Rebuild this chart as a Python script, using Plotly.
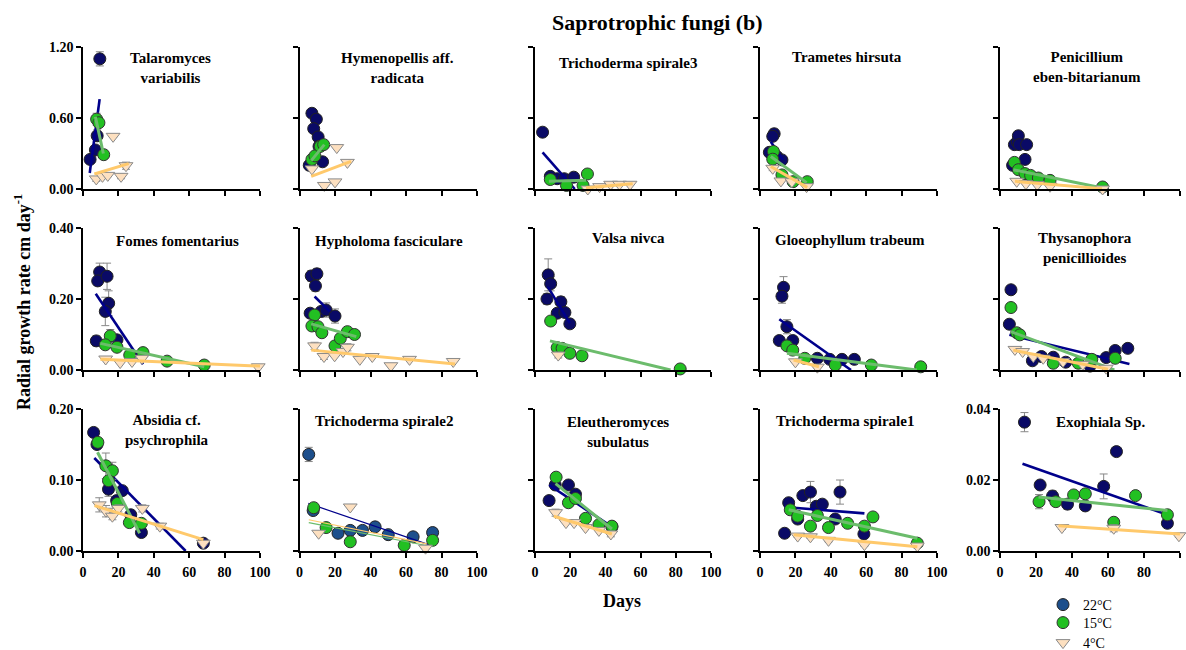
import plotly.graph_objects as go

W, H = 1186, 650

panel_titles = ["Talaromyces<br>variabilis", "Hymenopellis aff.<br>radicata", "Trichoderma spirale3",
                "Trametes hirsuta", "Penicillium<br>eben-bitarianum",
                "Fomes fomentarius", "Hypholoma fasciculare", "Valsa nivca", "Gloeophyllum trabeum",
                "Thysanophora<br>penicillioides",
                "Absidia cf.<br>psychrophila", "Trichoderma spirale2", "Eleutheromyces<br>subulatus",
                "Trichoderma spirale1", "Exophiala Sp."]

# ---- 22 °C ----
days22 = [
    [4, 7, 8, 9.5],
    [7, 9.5, 8, 10.5, 11, 13, 5.5],
    [4.3, 8.7, 12.6, 16.6, 22],
    [8, 7.2, 5.3, 9.5, 12.4],
    [7, 8, 9.6, 10.2, 10.7, 13.9, 14.8],
    [9.4, 8.3, 13.6, 14.5, 12.6, 7.5, 19.2],
    [6.6, 9.8, 9, 6, 12.2, 15, 20],
    [7.5, 8.9, 6.8, 14.7, 12.6, 17, 19.8],
    [13.3, 12.4, 15.2, 10.9, 18.5, 32.4, 39.4, 46.3, 53.3],
    [6.1, 5.2, 18, 23, 29.6, 36.5, 50, 59, 64, 71],
    [6, 7.9, 14.4, 19, 22.2, 27, 33, 68],
    [5.2, 7.7, 21.7, 28.6, 35.5, 42.6, 50, 64, 75],
    [8, 11.5, 19, 23, 43.7],
    [13.9, 16.2, 21.3, 24.2, 28.5, 31.8, 35.2, 42.5, 45.2, 58.7],
    [13.6, 22.3, 29.2, 37.5, 47.4, 57.6, 64.7, 93],
]
rate22 = [
    [0.25, 0.33, 0.45, 1.10],
    [0.64, 0.59, 0.51, 0.44, 0.36, 0.23, 0.20],
    [0.48, 0.107, 0.087, 0.087, 0.10],
    [0.467, 0.445, 0.31, 0.275, 0.246],
    [0.20, 0.375, 0.40, 0.45, 0.375, 0.25, 0.375],
    [0.276, 0.251, 0.264, 0.188, 0.165, 0.082, 0.085],
    [0.265, 0.271, 0.237, 0.16, 0.165, 0.169, 0.152],
    [0.268, 0.243, 0.20, 0.192, 0.16, 0.162, 0.13],
    [0.233, 0.208, 0.122, 0.083, 0.083, 0.033, 0.030, 0.030, 0.030],
    [0.226, 0.129, 0.026, 0.038, 0.036, 0.022, 0.011, 0.035, 0.055, 0.061],
    [0.167, 0.15, 0.087, 0.071, 0.085, 0.051, 0.026, 0.011],
    [0.136, 0.057, 0.025, 0.029, 0.029, 0.034, 0.023, 0.020, 0.026],
    [0.071, 0.093, 0.093, 0.080, 0.034],
    [0.025, 0.068, 0.045, 0.078, 0.083, 0.063, 0.066, 0.045, 0.083, 0.024],
    [0.0363, 0.0186, 0.0155, 0.0132, 0.0127, 0.0182, 0.028, 0.0078],
]
err22 = [
    [0.02, 0.03, 0.05, 0.06],
    [0, 0, 0, 0, 0, 0, 0],
    [0, 0, 0, 0, 0],
    [0.04, 0.03, 0.02, 0.02, 0.02],
    [0.03, 0.03, 0.02, 0.03, 0.03, 0, 0.02],
    [0.025, 0, 0.037, 0.035, 0.04, 0.014, 0],
    [0.015, 0.015, 0.015, 0, 0, 0.02, 0.02],
    [0.045, 0.02, 0.015, 0.015, 0.01, 0.01, 0.005],
    [0.03, 0.02, 0.02, 0, 0, 0, 0, 0, 0],
    [0, 0, 0, 0, 0, 0, 0, 0, 0, 0],
    [0, 0, 0.01, 0, 0, 0, 0, 0],
    [0.01, 0, 0, 0, 0, 0, 0, 0, 0],
    [0, 0, 0.005, 0.005, 0],
    [0, 0.005, 0, 0, 0.015, 0, 0.005, 0, 0.017, 0.004],
    [0.0027, 0, 0.0015, 0.0015, 0, 0.0035, 0, 0.001],
]
# ---- 15 °C ----
days15 = [
    [7.7, 9, 11.7],
    [7, 8.7, 11.7, 13.6],
    [8.7, 17.9, 27.3, 29.8],
    [7.6, 7.2, 12.4, 18.7, 26.7],
    [8, 10.2, 13.9, 17, 21.3, 27.8, 57],
    [15.4, 12.6, 19.2, 26.4, 33.9, 47.5, 68.5],
    [8.5, 7, 10.4, 12.6, 20, 23, 27, 31],
    [8.9, 12.6, 15.4, 19.8, 26.7, 82.5],
    [15.2, 18.5, 25.3, 42.5, 62.9, 90.8],
    [6.1, 9.3, 11, 29.6, 43.5, 51, 64],
    [8.4, 12.9, 16.6, 14.4, 19.4, 26.2, 33],
    [8, 15, 28.6, 59, 75],
    [12, 19, 23, 28.7, 36.3, 43.7],
    [17.1, 21.3, 28.5, 32.4, 38.7, 49.5, 59, 63.8, 88.9],
    [21.7, 31, 40.9, 47.4, 63.2, 75.3, 93],
]
rate15 = [
    [0.59, 0.56, 0.29],
    [0.25, 0.28, 0.36, 0.375],
    [0.08, 0.03, 0.03, 0.127],
    [0.317, 0.252, 0.119, 0.062, 0.062],
    [0.225, 0.163, 0.13, 0.115, 0.093, 0.073, 0.017],
    [0.096, 0.071, 0.064, 0.042, 0.049, 0.025, 0.014],
    [0.155, 0.124, 0.122, 0.105, 0.068, 0.089, 0.108, 0.10],
    [0.138, 0.063, 0.061, 0.047, 0.04, 0.003],
    [0.068, 0.056, 0.033, 0.014, 0.014, 0.009],
    [0.176, 0.105, 0.099, 0.019, 0.019, 0.03, 0.033],
    [0.153, 0.12, 0.113, 0.099, 0.067, 0.04, 0.039],
    [0.061, 0.033, 0.013, 0.008, 0.015],
    [0.104, 0.068, 0.074, 0.046, 0.037, 0.035],
    [0.058, 0.049, 0.035, 0.050, 0.033, 0.039, 0.035, 0.048, 0.011],
    [0.0139, 0.0139, 0.0158, 0.0161, 0.0081, 0.0156, 0.0102],
]
err15 = [
    [0.05, 0.02, 0.02],
    [0, 0, 0, 0],
    [0, 0, 0, 0],
    [0.02, 0, 0, 0, 0],
    [0, 0, 0, 0, 0, 0, 0],
    [0.018, 0, 0, 0, 0, 0, 0],
    [0, 0, 0, 0, 0, 0, 0, 0.01],
    [0.01, 0, 0, 0, 0, 0],
    [0, 0, 0, 0, 0, 0],
    [0, 0, 0, 0, 0, 0, 0],
    [0, 0.018, 0.012, 0, 0.005, 0, 0.005],
    [0, 0, 0, 0, 0],
    [0.005, 0, 0, 0, 0, 0.004],
    [0, 0, 0, 0, 0, 0, 0, 0, 0],
    [0.002, 0.001, 0, 0, 0, 0, 0.001],
]
# ---- 4 °C ----
days4 = [
    [7.5, 11, 14, 17, 21.5, 24.3],
    [7, 14, 20, 21, 27],
    [30, 36.7, 43, 48, 54],
    [7.2, 11.8, 18, 26.3],
    [9.3, 14.4, 20.7, 27.8, 57],
    [12.8, 21, 27.7, 33.3, 99],
    [8.5, 13.8, 19.8, 24.5, 27, 34, 41, 51.5, 62, 86.6],
    [13.2],
    [20, 32.4],
    [8.3, 12.6, 18.5, 24, 35, 46, 59],
    [9.2, 13, 16.6, 20, 33.5, 43.4, 68],
    [10.8, 28.6, 71],
    [11.7, 17.6, 22.2, 28.7, 36.3, 43.1],
    [21.3, 28.5, 38.7, 59, 88.9],
    [34.4, 63.2, 99.4],
]
rate4 = [
    [0.085, 0.107, 0.115, 0.445, 0.107, 0.197],
    [0.17, 0.03, 0.06, 0.35, 0.225],
    [0.0, 0.02, 0.04, 0.04, 0.04],
    [0.175, 0.068, 0.062, 0.02],
    [0.065, 0.045, 0.037, 0.023, 0.0],
    [0.031, 0.021, 0.024, 0.033, 0.009],
    [0.068, 0.038, 0.04, 0.052, 0.064, 0.03, 0.038, 0.012, 0.03, 0.024],
    [0.042],
    [0.023, 0.008],
    [0.058, 0.052, 0.038, 0.033, 0.024, 0.016, 0.005],
    [0.065, 0.056, 0.049, 0.06, 0.06, 0.035, 0.011],
    [0.025, 0.062, 0.004],
    [0.054, 0.040, 0.040, 0.033, 0.029, 0.024],
    [0.021, 0.020, 0.015, 0.009, 0.007],
    [0.0066, 0.0064, 0.0043],
]
err4 = [
    [0.02, 0.01, 0.01, 0.01, 0.02, 0.03],
    [0, 0, 0, 0, 0],
    [0, 0, 0, 0, 0],
    [0.02, 0, 0, 0],
    [0, 0, 0, 0, 0],
    [0.004, 0, 0, 0, 0],
    [0.01, 0.008, 0, 0, 0.01, 0, 0, 0, 0, 0],
    [0.008],
    [0, 0],
    [0, 0, 0, 0, 0, 0, 0],
    [0.01, 0.008, 0.005, 0.005, 0.005, 0.004, 0],
    [0, 0, 0],
    [0.005, 0, 0, 0, 0, 0.004],
    [0.002, 0.002, 0.002, 0.002, 0],
    [0.0005, 0.001, 0.0005],
]
# ---- regression lines (end points) ----
fit22_x = [[3.8, 9.4], None, [4.3, 22.6], [6.1, 13], None,
           [7.2, 33.9], [8.5, 17], [7.2, 19.8], [10.9, 51.4], [5.2, 71.9],
           [6.4, 58], [5, 74], [8, 43.7], [13.7, 59], [12.5, 93]]
fit22_y = [[0.135, 0.76], None, [0.31, 0.0], [0.40, 0.246], None,
           [0.215, 0.016], [0.207, 0.165], [0.235, 0.132], [0.143, 0.0], [0.099, 0.017],
           [0.131, 0.0], [0.067, 0.008], [0.093, 0.034], [0.062, 0.053], [0.0246, 0.0102]]
fit15_x = [[7, 11.5], [6.6, 14], [7.9, 29], [6.1, 26.3], [7.4, 57],
           [9.8, 68.5], [6.6, 32], [8.5, 77], [15.2, 88.6], [6.1, 63.5],
           [8.2, 32], [5.2, 75], [11.7, 43.7], [16.2, 88.9], [21.4, 93]]
fit15_y = [[0.61, 0.30], [0.24, 0.375], [0.065, 0.073], [0.275, 0.054], [0.163, 0.008],
           [0.075, 0.009], [0.13, 0.094], [0.082, 0.0], [0.047, 0.0], [0.108, 0.0],
           [0.139, 0.025], [0.040, 0.006], [0.095, 0.031], [0.058, 0.018], [0.0152, 0.0114]]
fit4_x = [[6.4, 25.8], [6.6, 29], [29, 55.5], [6.1, 26.7], [8.3, 56.7],
          [9.8, 100], [6.6, 87.6], None, [19, 33.3], [7.4, 60],
          [6.5, 68], [5.2, 71.7], [10.7, 43.7], [19, 88.9], [32.5, 100]]
fit4_y = [[0.127, 0.214], [0.107, 0.234], [0.01, 0.045], [0.19, 0.014], [0.065, 0.003],
          [0.030, 0.011], [0.056, 0.017], None, [0.028, 0.009], [0.056, 0.002],
          [0.064, 0.016], [0.044, 0.010], [0.049, 0.024], [0.023, 0.006], [0.0071, 0.0048]]

row_ymax = [1.2, 0.4, 0.2]
row_yticks = [[0, 0.6, 1.2], [0, 0.2, 0.4], [0, 0.1, 0.2]]
exo_yticks = [0, 0.02, 0.04]
x_ticks = [0, 20, 40, 60, 80, 100]
legend_names = ["22\u00b0C", "15\u00b0C", "4\u00b0C"]

# ---- styles / layout geometry (pixels) ----
col_px = [(83, 260), (299.5, 477), (535, 711), (760, 937), (1000, 1180)]
row_px = [(47, 189), (228, 370), (409, 551)]
title_pos = [(170, 68), (397, 68), (628, 63), (847, 57), (1087, 67),
             (177, 241), (389, 241), (628, 238), (850, 240), (1085, 248),
             (167, 430), (384, 421), (618, 432), (845, 421), (1100, 422)]
legend_rows_px = [605, 623, 643]

NAVY = "#0a0a66"
STEEL = "#1d4f8c"
GREEN = "#22c022"
PEACH = "#fde0c0"
L_NAVY = "#00008b"
L_GREEN = "#6cbc6c"
L_ORANGE = "#ffc96b"
SERIF = "Liberation Serif"

def px(x):
    return x / W

def py(y):
    return 1 - y / H

fig = go.Figure()
layout = dict(width=W, height=H, margin=dict(l=0, r=0, t=0, b=0, autoexpand=False),
              plot_bgcolor="white", paper_bgcolor="white", showlegend=True)
annotations = []

for i in range(15):
    r, c = divmod(i, 5)
    k = "" if i == 0 else str(i + 1)
    xa, ya = "x" + k, "y" + k
    ymax = 0.04 if i == 14 else row_ymax[r]
    yticks = exo_yticks if i == 14 else row_yticks[r]
    axis_common = dict(showline=True, linecolor="black", linewidth=1.5, ticks="outside",
                       ticklen=5, tickwidth=1.5, tickcolor="black", showgrid=False,
                       zeroline=False, automargin=False,
                       tickfont=dict(family=SERIF, size=14, color="black", weight="bold"))
    layout["xaxis" + k] = dict(axis_common, domain=[px(col_px[c][0]), px(col_px[c][1])],
                               anchor=ya, range=[0, 100], tickvals=x_ticks,
                               showticklabels=(r == 2), ticklabelstandoff=2)
    layout["yaxis" + k] = dict(axis_common, domain=[py(row_px[r][1]), py(row_px[r][0])],
                               anchor=xa, range=[0, ymax], tickvals=yticks, tickformat=".2f",
                               showticklabels=(c == 0 or i == 14))
    errstyle = dict(type="data", thickness=1, width=4, color="#888888")
    c22 = STEEL if i == 11 else NAVY
    lw = 1.2 if i == 11 else 2.6
    lw2 = 1.2 if i == 11 else 3
    fig.add_trace(go.Scatter(x=days22[i], y=rate22[i], mode="markers", xaxis=xa, yaxis=ya,
                             error_y=dict(errstyle, array=err22[i]), showlegend=False, cliponaxis=False,
                             marker=dict(symbol="circle", size=12, color=c22, line=dict(color="#222", width=1))))
    if fit22_x[i]:
        fig.add_trace(go.Scatter(x=fit22_x[i], y=fit22_y[i], mode="lines", xaxis=xa, yaxis=ya,
                                 showlegend=False, line=dict(color=L_NAVY, width=lw)))
    fig.add_trace(go.Scatter(x=days15[i], y=rate15[i], mode="markers", xaxis=xa, yaxis=ya,
                             error_y=dict(errstyle, array=err15[i]), showlegend=False, cliponaxis=False,
                             marker=dict(symbol="circle", size=12, color=GREEN, line=dict(color="#333", width=1))))
    if fit15_x[i]:
        fig.add_trace(go.Scatter(x=fit15_x[i], y=fit15_y[i], mode="lines", xaxis=xa, yaxis=ya,
                                 showlegend=False, line=dict(color=L_GREEN, width=lw2)))
    fig.add_trace(go.Scatter(x=days4[i], y=rate4[i], mode="markers", xaxis=xa, yaxis=ya,
                             error_y=dict(errstyle, array=err4[i]), showlegend=False, cliponaxis=False,
                             marker=dict(symbol="triangle-down", size=12, color=PEACH,
                                         line=dict(color="#8a8a8a", width=1))))
    if fit4_x[i]:
        fig.add_trace(go.Scatter(x=fit4_x[i], y=fit4_y[i], mode="lines", xaxis=xa, yaxis=ya,
                                 showlegend=False, line=dict(color=L_ORANGE, width=lw2)))
    tx, ty = title_pos[i]
    annotations.append(dict(text=panel_titles[i], x=px(tx), y=py(ty), xref="paper", yref="paper",
                            xanchor="center", yanchor="middle", showarrow=False,
                            font=dict(family=SERIF, size=15, color="black", weight="bold")))

# legend entries: one small legend per entry so each can be placed exactly
leg_styles = [("circle", STEEL, "#222"), ("circle", GREEN, "#333"), ("triangle-down", PEACH, "#8a8a8a")]
for j, (name, (sym, col, lc)) in enumerate(zip(legend_names, leg_styles)):
    lg = "legend" if j == 0 else "legend" + str(j + 1)
    fig.add_trace(go.Scatter(x=[None], y=[None], mode="markers", name=name, xaxis="x15", yaxis="y15",
                             legend=lg, showlegend=True,
                             marker=dict(symbol=sym, size=12, color=col, line=dict(color=lc, width=1))))
    layout[lg] = dict(x=px(1043), y=py(legend_rows_px[j]), xanchor="left", yanchor="middle",
                      font=dict(family=SERIF, size=14, color="black"),
                      bgcolor="rgba(0,0,0,0)", itemwidth=30)

annotations.append(dict(text="Saprotrophic fungi (b)", x=px(657), y=py(22), xref="paper", yref="paper",
                        xanchor="center", yanchor="middle", showarrow=False,
                        font=dict(family=SERIF, size=22, color="black", weight="bold")))
annotations.append(dict(text="Radial growth rate cm day<sup>-1</sup>", x=px(22), y=py(302),
                        xref="paper", yref="paper", xanchor="center", yanchor="middle", textangle=-90,
                        showarrow=False, font=dict(family=SERIF, size=18, color="black", weight="bold")))
annotations.append(dict(text="Days", x=px(622), y=py(601), xref="paper", yref="paper",
                        xanchor="center", yanchor="middle", showarrow=False,
                        font=dict(family=SERIF, size=18, color="black", weight="bold")))
layout["annotations"] = annotations
fig.update_layout(**layout)
fig.write_html("out.html")
